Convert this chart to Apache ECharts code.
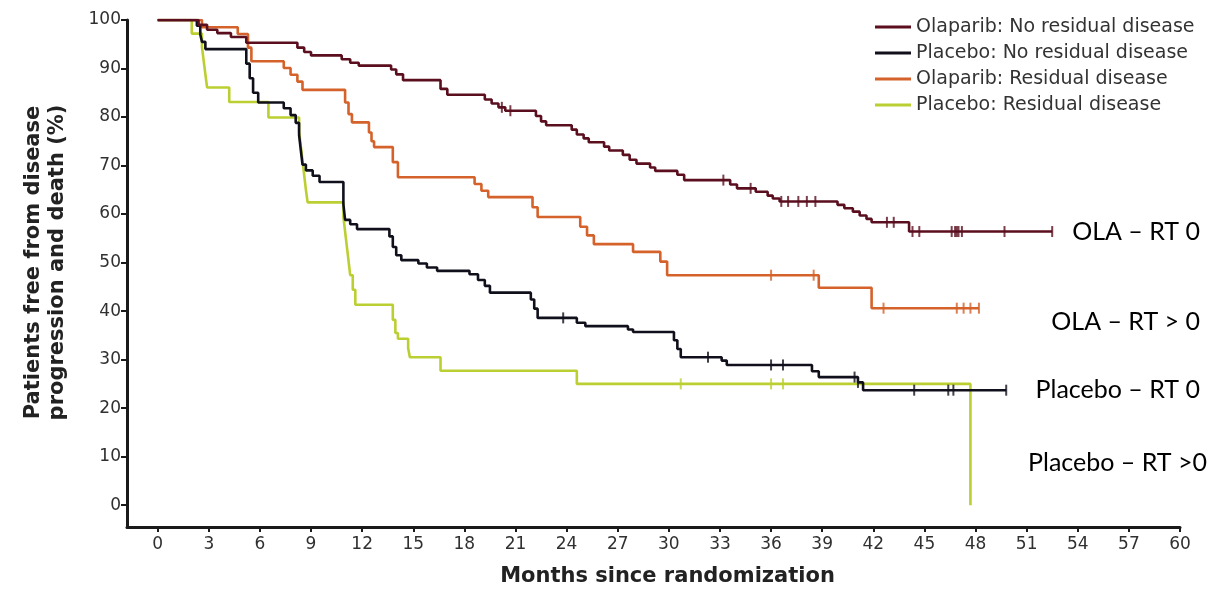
<!DOCTYPE html>
<html>
<head>
<meta charset="utf-8">
<title>Progression-free survival by residual disease</title>
<script src="https://cdn.jsdelivr.net/npm/echarts@6/dist/echarts.min.js"></script>
<style>
  html, body { margin: 0; padding: 0; background: #ffffff; }
  #chart { width: 1216px; height: 599px; }
</style>
</head>
<body>
<div id="chart"></div>
<script>
// Axis tick values
const monthTicks = [0, 3, 6, 9, 12, 15, 18, 21, 24, 27, 30, 33, 36, 39, 42, 45, 48, 51, 54, 57, 60];
const percentTicks = [0, 10, 20, 30, 40, 50, 60, 70, 80, 90, 100];

// Kaplan-Meier curves: [month, % free from progression/death after that month]
const olaNoResidual = [
  [0, 100], [2.4, 99], [2.9, 98], [3.5, 97.3], [4.3, 96.5], [5.2, 95.3],
  [8.2, 94.3], [8.6, 93.4], [9.0, 92.7], [10.8, 91.9], [11.3, 91.2], [11.8, 90.6],
  [13.7, 89.8], [14.0, 88.8], [14.4, 87.6], [16.6, 85.8], [17.0, 84.6],
  [19.2, 83.6], [19.6, 82.8], [20.0, 82.0], [20.4, 81.3], [22.2, 80.2], [22.5, 79.1],
  [22.8, 78.3], [24.3, 77.4], [24.6, 76.4], [25.0, 75.6], [25.3, 74.8], [26.2, 73.9],
  [26.5, 73.1], [27.3, 72.2], [27.7, 71.2], [28.1, 70.4], [28.9, 69.6], [29.2, 68.9],
  [30.5, 68.1], [30.9, 67.0], [33.6, 66.1], [34.0, 65.3], [35.1, 64.6], [35.8, 63.8],
  [36.1, 63.2], [36.5, 62.6], [39.9, 61.9], [40.3, 61.2], [40.8, 60.5], [41.2, 59.7],
  [41.6, 59.0], [41.9, 58.3], [44.1, 56.4], [52.5, 56.4]
];
const placNoResidual = [
  [0, 100], [2.3, 98.8], [2.5, 97.0], [2.6, 95.5], [2.8, 94.0], [5.2, 91.0],
  [5.4, 88.0], [5.6, 85.0], [5.9, 83.0], [7.4, 81.8], [7.8, 80.4], [8.1, 78.8],
  [8.3, 76.3], [8.4, 73.2], [8.5, 70.2], [8.7, 69.0], [9.1, 67.9], [9.5, 66.6],
  [10.9, 62.0], [11.0, 58.8], [11.3, 57.9], [11.7, 56.9], [13.6, 55.4], [13.8, 53.2],
  [14.0, 51.5], [14.3, 50.5], [15.3, 49.8], [15.8, 49.0], [16.4, 48.3], [18.3, 47.6],
  [18.8, 46.4], [19.2, 45.2], [19.5, 43.8], [21.9, 42.4], [22.1, 40.5], [22.3, 38.6],
  [24.6, 37.6], [25.1, 36.9], [27.6, 36.2], [27.9, 35.7], [30.3, 34.0], [30.5, 32.2],
  [30.7, 30.5], [33.1, 29.8], [33.4, 28.9], [38.4, 27.6], [38.8, 26.4], [41.1, 25.3],
  [41.4, 23.7], [49.8, 23.7]
];
const olaResidual = [
  [0, 100], [2.6, 98.5], [4.7, 97.1], [5.3, 94.3], [5.5, 91.5], [7.4, 90.1],
  [7.8, 88.7], [8.2, 87.3], [8.5, 85.6], [11.0, 83.0], [11.2, 80.6], [11.4, 78.9],
  [12.4, 76.8], [12.55, 75.0], [12.7, 73.8], [13.8, 70.7], [14.1, 67.6], [18.6, 66.2],
  [19.0, 64.8], [19.4, 63.5], [22.0, 61.4], [22.3, 59.4], [24.8, 57.4], [25.2, 55.6],
  [25.6, 53.8], [27.9, 52.2], [29.5, 50.2], [29.9, 47.4], [38.8, 44.8], [41.9, 40.6],
  [48.2, 40.6]
];
const placResidual = [
  [0, 100], [2.0, 97.2], [2.6, 94.4], [2.7, 91.6], [2.8, 88.8], [2.9, 86.1],
  [4.2, 83.1], [6.5, 79.9], [8.3, 77.0], [8.4, 74.0], [8.5, 71.0], [8.6, 68.0],
  [8.7, 65.0], [8.8, 62.4], [10.9, 59.4], [11.0, 56.4], [11.1, 53.4], [11.2, 50.4],
  [11.3, 47.4], [11.45, 44.4], [11.6, 41.3], [13.8, 38.2], [13.95, 35.5], [14.1, 34.3],
  [14.7, 32.4], [14.8, 30.5], [16.6, 27.7], [24.6, 25.0], [47.7, 25.0], [47.7, 0]
];

// Censoring times (months)
const olaNoResidualCensor = [20.2, 20.7, 33.2, 34.8, 36.6, 37.0, 37.6, 38.1, 38.6, 42.8, 43.2, 44.3, 44.7, 46.6, 46.8, 46.9, 47.0, 47.2, 49.7, 52.5];
const placNoResidualCensor = [23.8, 32.3, 36.0, 36.7, 40.9, 41.1, 44.4, 46.4, 46.7, 49.8];
const olaResidualCensor = [36.0, 38.5, 42.6, 46.9, 47.3, 47.7, 48.2];
const placResidualCensor = [30.7, 36.0, 36.7];

// Group names and side annotations
const groupNames = [
  'Olaparib: No residual disease',
  'Placebo: No residual disease',
  'Olaparib: Residual disease',
  'Placebo: Residual disease'
];
const sideLabels = ['OLA \u2013 RT 0', 'OLA \u2013 RT > 0', 'Placebo \u2013 RT 0', 'Placebo \u2013 RT >0'];

const colors = {
  olaNo: '#5a0e1e',
  placNo: '#10101c',
  olaRes: '#d4622a',
  placRes: '#bccf32'
};

// Value of a step curve at time t
function survivalAt(curve, t) {
  let v = curve[0][1];
  for (const [m, s] of curve) {
    if (m <= t) v = s; else break;
  }
  return v;
}

function kmLine(name, data, color) {
  return {
    name: name,
    type: 'line',
    step: 'end',
    data: data,
    symbol: 'none',
    showSymbol: false,
    lineStyle: { color: color, width: 2.6 },
    itemStyle: { color: color },
    emphasis: { disabled: true },
    z: 2
  };
}

function censorMarks(name, curve, times, color) {
  return {
    name: name + ' (censored)',
    type: 'scatter',
    data: times.map(t => [t, survivalAt(curve, t)]),
    symbol: 'rect',
    symbolSize: [2, 11],
    itemStyle: { color: color },
    emphasis: { disabled: true },
    z: 3
  };
}

const chart = echarts.init(document.getElementById('chart'), null, { renderer: 'canvas' });

const axisFont = 'DejaVu Sans';

chart.setOption({
  backgroundColor: '#ffffff',
  animation: false,
  grid: { left: 127, right: 36, top: 20, bottom: 72, containLabel: false },
  legend: {
    orient: 'vertical',
    left: 870,
    top: 12,
    icon: 'rect',
    itemWidth: 36,
    itemHeight: 3,
    itemGap: 6,
    data: groupNames,
    textStyle: { fontFamily: axisFont, fontSize: 19, color: '#333333', lineHeight: 20 }
  },
  xAxis: {
    type: 'value',
    min: -1.8,
    max: 60,
    name: 'Months since randomization',
    nameLocation: 'middle',
    nameGap: 39,
    nameTextStyle: { fontFamily: axisFont, fontSize: 21, fontWeight: 'bold', color: '#222222', padding: [0, 0, 0, 28] },
    axisLine: { show: true, onZero: false, lineStyle: { color: '#1a1a1a', width: 3 } },
    axisTick: { show: true, length: 5, lineStyle: { color: '#1a1a1a', width: 2 }, customValues: monthTicks },
    axisLabel: { customValues: monthTicks, fontFamily: axisFont, fontSize: 17, color: '#303030', margin: 9 },
    splitLine: { show: false }
  },
  yAxis: {
    type: 'value',
    min: -4.5,
    max: 100,
    name: 'Patients free from disease\nprogression and death (%)',
    nameLocation: 'middle',
    nameGap: 57,
    nameTextStyle: { fontFamily: axisFont, fontSize: 21, fontWeight: 'bold', color: '#222222', lineHeight: 24, padding: [0, 0, 0, 22] },
    axisLine: { show: true, onZero: false, lineStyle: { color: '#1a1a1a', width: 3 } },
    axisTick: { show: true, length: 6, lineStyle: { color: '#1a1a1a', width: 2 }, customValues: percentTicks },
    axisLabel: { customValues: percentTicks, fontFamily: axisFont, fontSize: 17, color: '#303030', margin: 6 },
    splitLine: { show: false }
  },
  series: [
    kmLine(groupNames[3], placResidual, colors.placRes),
    kmLine(groupNames[2], olaResidual, colors.olaRes),
    kmLine(groupNames[1], placNoResidual, colors.placNo),
    kmLine(groupNames[0], olaNoResidual, colors.olaNo),
    censorMarks(groupNames[3], placResidual, placResidualCensor, colors.placRes),
    censorMarks(groupNames[2], olaResidual, olaResidualCensor, colors.olaRes),
    censorMarks(groupNames[1], placNoResidual, placNoResidualCensor, colors.placNo),
    censorMarks(groupNames[0], olaNoResidual, olaNoResidualCensor, colors.olaNo)
  ],
  graphic: [
    { type: 'text', x: 1200, y: 232, style: { text: sideLabels[0], font: '25px Lato', fill: '#000000', align: 'right', verticalAlign: 'middle' } },
    { type: 'text', x: 1200, y: 322, style: { text: sideLabels[1], font: '25px Lato', fill: '#000000', align: 'right', verticalAlign: 'middle' } },
    { type: 'text', x: 1200, y: 390, style: { text: sideLabels[2], font: '25px Lato', fill: '#000000', align: 'right', verticalAlign: 'middle' } },
    { type: 'text', x: 1207, y: 463, style: { text: sideLabels[3], font: '25px Lato', fill: '#000000', align: 'right', verticalAlign: 'middle' } }
  ]
});
</script>
</body>
</html>
